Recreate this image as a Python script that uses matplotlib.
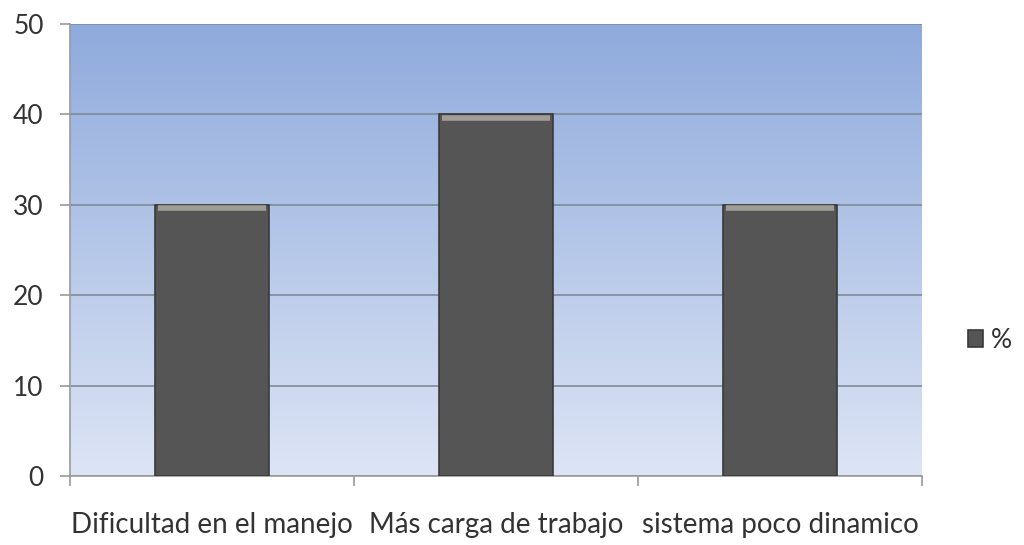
import numpy as np
import matplotlib
matplotlib.use("Agg")
import matplotlib.pyplot as plt
from matplotlib.colors import LinearSegmentedColormap

categories = ["Dificultad en el manejo", "Más carga de trabajo", "sistema poco dinamico"]
values = [30, 40, 30]
series_name = "%"
y_ticks = [0, 10, 20, 30, 40, 50]

plt.rcParams["font.family"] = ["Lato", "DejaVu Sans"]

fig = plt.figure(figsize=(10.24, 5.45), dpi=100)
ax = fig.add_axes([70 / 1024, 1 - 476 / 545, 852 / 1024, 452 / 545])

# gradient background, darker blue at top
bg = LinearSegmentedColormap.from_list("bg", ["#dde5f5", "#8faadc"])
grad = np.linspace(0, 1, 256).reshape(-1, 1)
ax.imshow(grad, cmap=bg, aspect="auto", extent=[0, 1, 0, 1],
          transform=ax.transAxes, origin="lower", zorder=0)

x = np.arange(len(categories))
bars = ax.bar(x, values, width=0.4, color="#555555", edgecolor="#3a3a3a",
              linewidth=1.2, zorder=3, label=series_name)
# bevel highlight along the top of each bar
for b in bars:
    ax.plot([b.get_x() + 0.01, b.get_x() + b.get_width() - 0.01],
            [b.get_height() - 0.35] * 2, color="#a09f97", lw=4, zorder=4,
            solid_capstyle="butt")

ax.set_xlim(-0.5, len(categories) - 0.5)
ax.set_ylim(0, 50)
ax.set_yticks(y_ticks)
ax.set_yticklabels([str(v) for v in y_ticks], fontsize=19, color="#333333")
ax.yaxis.grid(True, color="#7f8a99", linewidth=1.2, zorder=1)
ax.set_axisbelow(True)

ax.set_xticks(x)
ax.set_xticklabels(categories, fontsize=20, color="#333333")
ax.tick_params(axis="x", length=0, pad=26)
ax.set_xticks(np.arange(len(categories) + 1) - 0.5, minor=True)
ax.tick_params(axis="x", which="minor", length=7, color="#999999", width=1.2)
ax.tick_params(axis="y", length=7, color="#999999", width=1.2, pad=12)

for side in ["top", "right"]:
    ax.spines[side].set_visible(False)
ax.spines["left"].set_color("#999999")
ax.spines["bottom"].set_color("#999999")
ax.spines["left"].set_linewidth(1.2)
ax.spines["bottom"].set_linewidth(1.2)

fig.legend(handles=[bars], labels=[series_name], loc="center",
           bbox_to_anchor=(990 / 1024, 1 - 340 / 545), frameon=False,
           fontsize=19, handlelength=0.6, handleheight=0.6, handletextpad=0.3,
           labelcolor="#333333")

fig.savefig("out.png", dpi=100)
